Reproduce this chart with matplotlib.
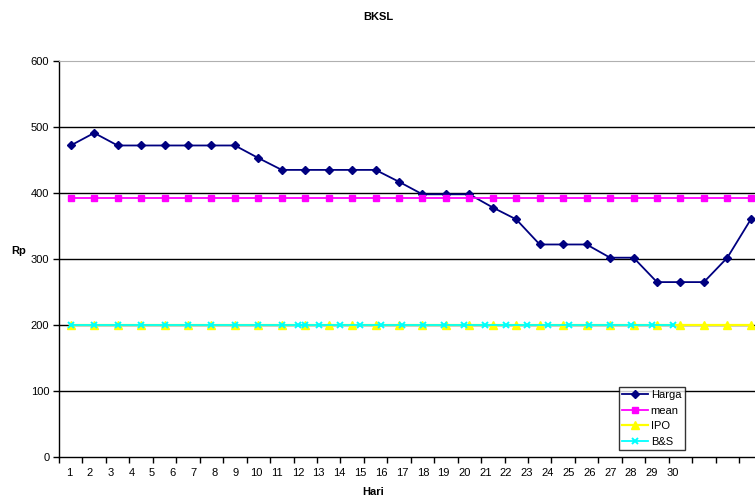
import matplotlib
matplotlib.use("Agg")
import matplotlib.pyplot as plt
from matplotlib.ticker import FixedLocator, NullFormatter

plt.rcParams["font.family"] = ["Liberation Sans", "DejaVu Sans"]

# data
hari = list(range(1, 31))
harga = [472, 491, 472, 472, 472, 472, 472, 472, 453, 435,
         435, 435, 435, 435, 417, 398, 398, 398, 378, 360,
         322, 322, 322, 302, 302, 265, 265, 265, 302, 360]
mean = [393, 393, 393, 393, 393, 393, 393, 393, 393, 393,
        393, 393, 393, 393, 393, 393, 393, 393, 393, 393,
        393, 393, 393, 393, 393, 393, 393, 393, 393, 393]
ipo = [200, 200, 200, 200, 200, 200, 200, 200, 200, 200,
       200, 200, 200, 200, 200, 200, 200, 200, 200, 200,
       200, 200, 200, 200, 200, 200, 200, 200, 200, 200]
bs = [200, 200, 200, 200, 200, 200, 200, 200, 200, 200,
      200, 200, 200, 200, 200, 200, 200, 200, 200, 200,
      200, 200, 200, 200, 200, 200, 200, 200, 200, 200]
tick_labels = [str(d) for d in hari]

# the original export squeezes the day labels (and part of B&S) onto a tighter step
LABEL_START = 0.92
LABEL_STEP = 0.888


def label_pos(k):
    return LABEL_START + LABEL_STEP * (k - 1)


bs_x = [d if d <= 11 else label_pos(d) for d in hari]

fig = plt.figure(figsize=(7.55, 5.01), dpi=100)
ax = fig.add_axes([59 / 755, 44 / 501, 703.5 / 755, 396 / 501])

ax.set_xlim(0.5, 30.5)
ax.set_ylim(0, 600)

for y in [100, 200, 300, 400, 500]:
    ax.axhline(y, color="black", lw=1, zorder=1)

ax.plot(hari, harga, color="#000080", marker="D", ms=4.5, lw=1.3, zorder=3, label="Harga")
ax.plot(hari, mean, color="#FF00FF", marker="s", ms=5, lw=1.3, zorder=4, label="mean")
ax.plot(hari, ipo, color="#FFFF00", marker="^", ms=6, lw=1.6, zorder=5, label="IPO")
ax.plot(bs_x, bs, color="#00FFFF", marker="x", ms=5, mew=1.4, lw=1.3, zorder=6, label="B&S")

ax.set_yticks([0, 100, 200, 300, 400, 500, 600])
ax.tick_params(axis="y", length=4, width=1, pad=3, labelsize=8, direction="out")

ax.xaxis.set_major_locator(FixedLocator([d + 0.5 for d in [0] + hari]))
ax.xaxis.set_major_formatter(NullFormatter())
ax.xaxis.set_minor_locator(FixedLocator([label_pos(d) for d in hari]))
ax.set_xticklabels(tick_labels, minor=True)
ax.tick_params(axis="x", which="major", length=4, width=1, direction="out")
ax.tick_params(axis="x", which="minor", length=0, pad=8, labelsize=8)

ax.spines["right"].set_visible(False)
ax.spines["top"].set_color("#b0b0b0")
ax.spines["left"].set_linewidth(1)
ax.spines["bottom"].set_linewidth(1)

fig.text(378 / 755, 1 - 17 / 501, "BKSL", ha="center", va="center", fontsize=8, fontweight="bold")
fig.text(19 / 755, 1 - 251 / 501, "Rp", ha="center", va="center", fontsize=8, fontweight="bold")
fig.text(373 / 755, 1 - 492 / 501, "Hari", ha="center", va="center", fontsize=8, fontweight="bold")

leg = ax.legend(loc="lower left", bbox_to_anchor=(619 / 755, 51 / 501),
                bbox_transform=fig.transFigure, fontsize=8, frameon=True,
                fancybox=False, borderaxespad=0, borderpad=0.3,
                labelspacing=0.5, handlelength=2.3, handletextpad=0.25)
leg.get_frame().set_edgecolor("black")
leg.get_frame().set_linewidth(1)
leg.set_zorder(10)

fig.savefig("out.png", dpi=100)
plt.close(fig)
